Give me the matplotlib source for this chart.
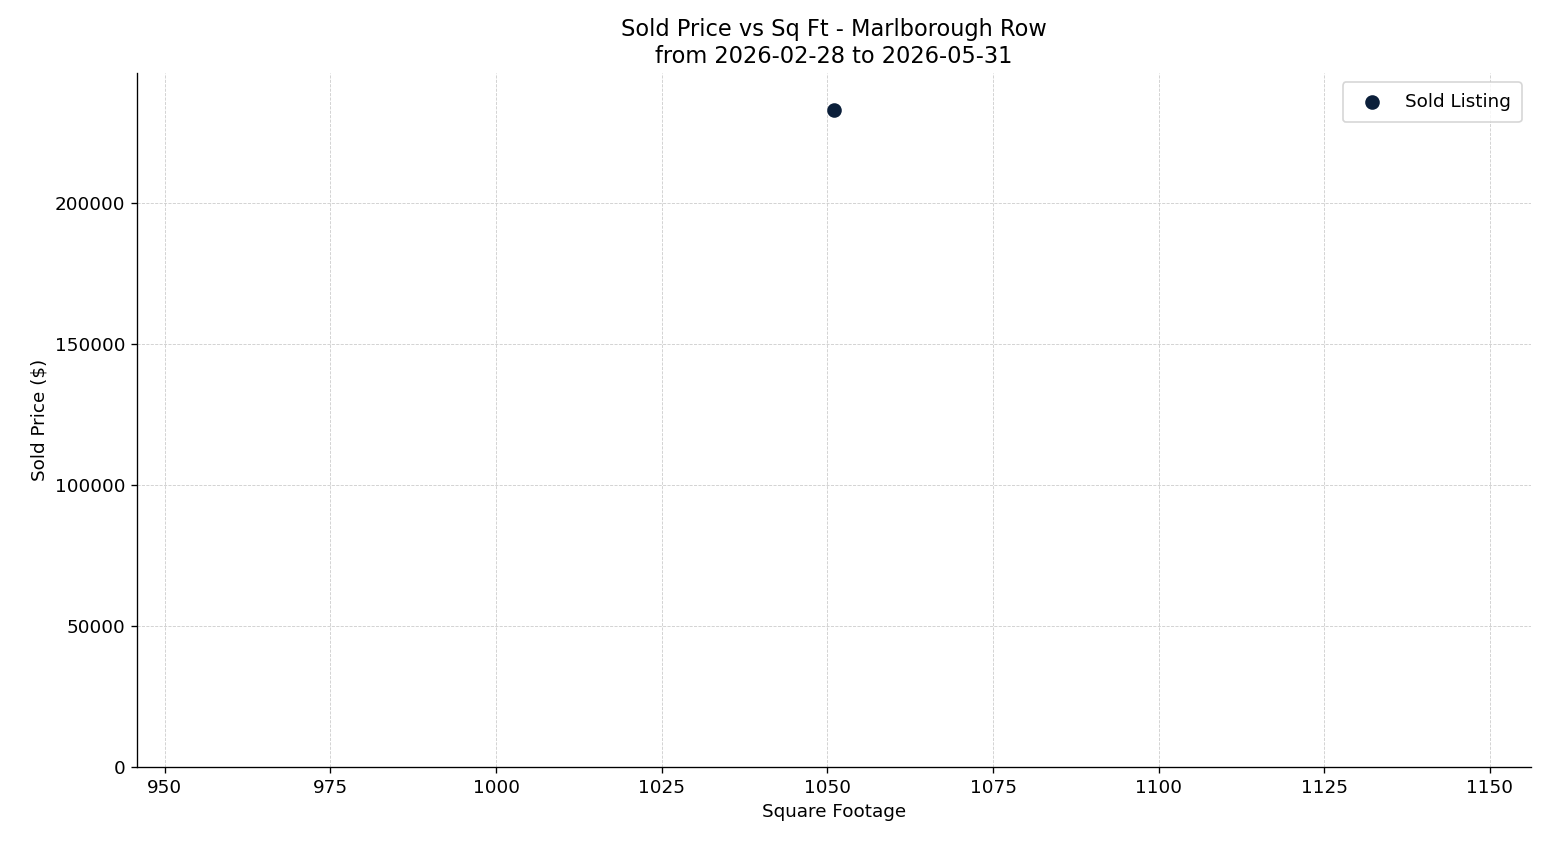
import matplotlib
matplotlib.use("Agg")
import matplotlib.pyplot as plt

plt.rcParams['font.size'] = 11

sqft = [1051]
price = [233000]

fig = plt.figure(figsize=(1547/120, 845/120), dpi=120)
ax = fig.add_axes([137/1547, 1-767/845, (1531-137)/1547, (767-73)/845])
ax.scatter(sqft, price, s=60, color="#0b1f3a", label="Sold Listing", zorder=3)
ax.set_xlim(945.8, 1156.2)
ax.set_ylim(0, 246000)
ax.set_xticks(range(950, 1151, 25))
ax.set_yticks(range(0, 200001, 50000))
ax.grid(True, linestyle="--", linewidth=0.5, color="#cccccc")
ax.set_axisbelow(True)
for s in ("top", "right"):
    ax.spines[s].set_visible(False)
ax.set_xlabel("Square Footage")
ax.set_ylabel("Sold Price ($)")
ax.set_title("Sold Price vs Sq Ft - Marlborough Row\nfrom 2026-02-28 to 2026-05-31", fontsize=13.5)
ax.legend(loc="upper right", borderpad=0.6)
fig.savefig("out.png", dpi=120)
